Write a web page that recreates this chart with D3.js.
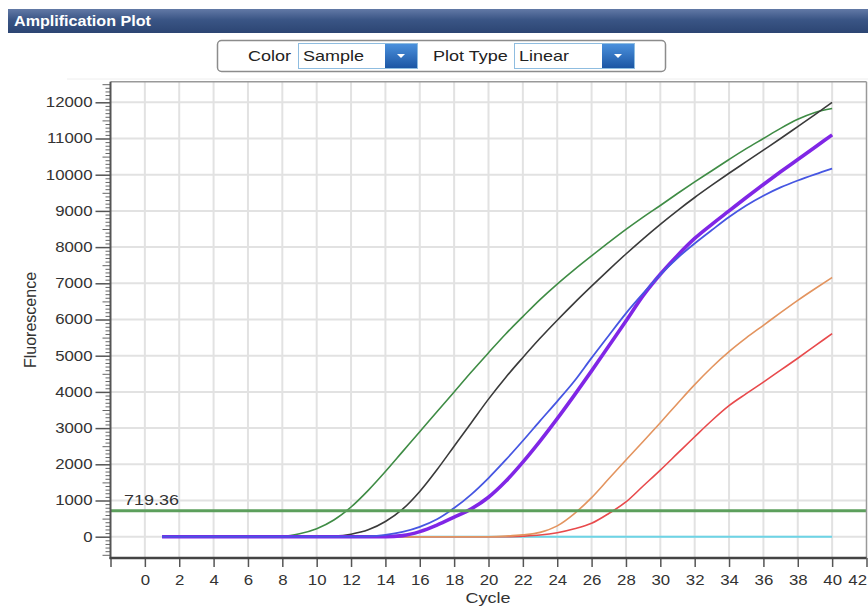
<!DOCTYPE html>
<html>
<head>
<meta charset="utf-8">
<script src="https://cdn.jsdelivr.net/npm/d3@7"></script>
<style>
  body { margin: 0; background: #fff; }
  text { font-family: "Liberation Sans", Arial, sans-serif; }
</style>
</head>
<body>
<svg id="chart" width="868" height="606"></svg>
<script>
// cycle numbers and fluorescence per well
var cycles = [1,2,3,4,5,6,7,8,9,10,11,12,13,14,15,16,17,18,19,20,
              21,22,23,24,25,26,27,28,29,30,31,32,33,34,35,36,37,38,39,40];
var greenVals = [0,0,0,0,0,0,0,10,80,220,460,820,1280,1800,2350,2900,3450,4000,4550,5080,
                 5600,6080,6550,6980,7380,7760,8130,8490,8830,9150,9480,9800,10110,10420,10720,11000,11280,11530,11720,11830];
var blackVals = [0,0,0,0,0,0,0,0,0,0,15,70,190,420,760,1250,1850,2500,3150,3800,
                 4400,4950,5480,5980,6460,6920,7370,7810,8230,8630,9010,9370,9710,10040,10360,10680,11000,11330,11660,12000];
var blueVals = [0,0,0,0,0,0,0,0,0,0,0,0,10,50,130,270,480,790,1170,1620,
                2120,2650,3200,3740,4300,4940,5560,6170,6720,7240,7700,8100,8470,8830,9150,9420,9650,9840,10010,10170];
var purpleVals = [0,0,0,0,0,0,0,0,0,0,0,0,0,0,30,140,320,540,770,1090,
                  1530,2060,2640,3260,3910,4580,5270,5960,6660,7250,7770,8240,8630,9000,9370,9730,10080,10420,10760,11100];
var orangeVals = [0,0,0,0,0,0,0,0,0,0,0,0,0,0,0,0,0,0,0,0,
                  15,50,120,300,640,1080,1600,2120,2630,3150,3680,4200,4680,5110,5490,5840,6190,6530,6850,7160];
var redVals = [0,0,0,0,0,0,0,0,0,0,0,0,0,0,0,0,0,0,0,0,
               0,15,45,110,220,370,640,960,1400,1840,2300,2760,3210,3620,3950,4270,4600,4930,5270,5610];
var cyanVals = [0,0,0,0,0,0,0,0,0,0,0,0,0,0,0,0,0,0,0,0,
                0,0,0,0,0,0,0,0,0,0,0,0,0,0,0,0,0,0,0,0];
var threshold = 719.36;

var xTicks = [-2,0,2,4,6,8,10,12,14,16,18,20,22,24,26,28,30,32,34,36,38,40,42];
var yTicks = [0,1000,2000,3000,4000,5000,6000,7000,8000,9000,10000,11000,12000];

var series = [
    {name: 'cyan', vals: cyanVals, color: '#6dd4e6', w: 2},
    {name: 'red', vals: redVals, color: '#e84a4c', w: 1.6},
    {name: 'orange', vals: orangeVals, color: '#e3945f', w: 1.6},
    {name: 'green', vals: greenVals, color: '#3f8c45', w: 1.6},
    {name: 'black', vals: blackVals, color: '#3a3a3a', w: 1.6},
    {name: 'purple', vals: purpleVals, color: '#8026e6', w: 3.6},
    {name: 'blue', vals: blueVals, color: '#4656e2', w: 1.8}
];

var svg = d3.select('#chart');
var pLeft = 110.5, pRight = 866.5, pTop = 81.7, pBottom = 558;

// stretch text a bit wider, the screenshot is wider than tall
function stretch(sel, k) {
    sel.each(function() {
        let w = this.getComputedTextLength();
        d3.select(this).attr('textLength', w * k).attr('lengthAdjust', 'spacingAndGlyphs');
    });
}

var defs = svg.append('defs');
var hg = defs.append('linearGradient').attr('id', 'hdr').attr('x1', 0).attr('y1', 0).attr('x2', 0).attr('y2', 1);
hg.append('stop').attr('offset', '0%').attr('stop-color', '#6279a6');
hg.append('stop').attr('offset', '45%').attr('stop-color', '#3a5585');
hg.append('stop').attr('offset', '100%').attr('stop-color', '#2c4573');
var bg = defs.append('linearGradient').attr('id', 'btn').attr('x1', 0).attr('y1', 0).attr('x2', 0).attr('y2', 1);
bg.append('stop').attr('offset', '0%').attr('stop-color', '#4a90dc');
bg.append('stop').attr('offset', '100%').attr('stop-color', '#1c56a4');

// header bar
svg.append('rect').attr('x', 8).attr('y', 9).attr('width', 860).attr('height', 24).attr('fill', 'url(#hdr)');
svg.append('text').attr('x', 14).attr('y', 26).attr('fill', '#fff')
    .attr('font-size', 14).attr('font-weight', 'bold').text('Amplification Plot')
    .call(stretch, 1.15);

// controls
svg.append('rect').attr('x', 217.5).attr('y', 40.5).attr('width', 448).attr('height', 31).attr('rx', 4)
    .attr('fill', '#fff').attr('stroke', '#8c8c8c').attr('stroke-width', 1.5);
function dropdown(lbl, lx, bx, bw, val) {
    svg.append('text').attr('x', lx).attr('y', 61).attr('font-size', 15).attr('fill', '#222').text(lbl).call(stretch, 1.2);
    svg.append('rect').attr('x', bx + 0.5).attr('y', 43.5).attr('width', bw).attr('height', 25)
        .attr('fill', '#fff').attr('stroke', '#8fbde0');
    svg.append('text').attr('x', bx + 5).attr('y', 61).attr('font-size', 15).attr('fill', '#222').text(val).call(stretch, 1.2);
    svg.append('rect').attr('x', bx + bw - 32).attr('y', 44).attr('width', 32).attr('height', 24).attr('fill', 'url(#btn)');
    let cx = bx + bw - 16;
    svg.append('path').attr('d', 'M' + (cx - 4) + ',54 L' + (cx + 4) + ',54 L' + cx + ',58 Z').attr('fill', '#fff');
}
dropdown('Color', 248, 298, 119, 'Sample');
dropdown('Plot Type', 433, 514, 120, 'Linear');

svg.append('line').attr('x1', 67).attr('x2', 868).attr('y1', 79).attr('y2', 79).attr('stroke', '#eee');

var x = d3.scaleLinear().domain([-2, 42]).range([pLeft, pRight]);
var y = d3.scaleLinear().domain([0, 12000]).range([536.7, 102.3]);

// grid
var grid = svg.append('g');
grid.selectAll('line.v').data(xTicks.filter(d => d >= 0 && d <= 40)).enter().append('line')
    .attr('class', 'v')
    .attr('x1', d => x(d)).attr('x2', d => x(d)).attr('y1', pTop).attr('y2', pBottom)
    .attr('stroke', '#e2e2e2').attr('stroke-width', 2);
grid.selectAll('line.h').data(yTicks).enter().append('line')
    .attr('class', 'h')
    .attr('x1', pLeft).attr('x2', pRight).attr('y1', d => y(d)).attr('y2', d => y(d))
    .attr('stroke', '#e2e2e2').attr('stroke-width', 2);

// curves
var line = d3.line()
    .x((d, i) => x(cycles[i]))
    .y(d => y(d))
    .curve(d3.curveMonotoneX);
svg.append('g').selectAll('path').data(series).enter().append('path')
    .attr('d', d => line(d.vals))
    .attr('fill', 'none')
    .attr('stroke', d => d.color)
    .attr('stroke-width', d => d.w)
    .attr('stroke-linejoin', 'round');

// threshold
svg.append('line').attr('x1', pLeft).attr('x2', pRight).attr('y1', y(threshold)).attr('y2', y(threshold))
    .attr('stroke', '#5c9f5c').attr('stroke-width', 3);
svg.append('text').attr('x', 124).attr('y', y(threshold) - 6).attr('font-size', 15).attr('fill', '#333')
    .text(threshold.toFixed(2)).call(stretch, 1.2);

// y axis: minor ticks, mid ticks, major ticks
var minor = [], mid = [];
for (let v = -500; v <= 12500; v += 100) {
    if (v % 1000 == 0) continue;
    if (v % 500 == 0) mid.push(v); else minor.push(v);
}
svg.append('g').attr('transform', 'translate(' + pLeft + ',0)')
    .call(d3.axisLeft(y).tickValues(minor).tickSize(5).tickFormat(''))
    .call(g => g.select('.domain').remove())
    .selectAll('line').attr('stroke', '#666');
svg.append('g').attr('transform', 'translate(' + pLeft + ',0)')
    .call(d3.axisLeft(y).tickValues(mid).tickSize(8).tickFormat(''))
    .call(g => g.select('.domain').remove())
    .selectAll('line').attr('stroke', '#666');
var yAx = svg.append('g').attr('transform', 'translate(' + pLeft + ',0)')
    .call(d3.axisLeft(y).tickValues(yTicks).tickSize(15).tickPadding(3).tickFormat(d3.format('d')));
yAx.select('.domain').remove();
yAx.selectAll('line').attr('stroke', '#555').attr('stroke-width', 1.5);
yAx.selectAll('text').attr('font-size', 14).attr('fill', '#333')
    .style('font-family', '"Liberation Sans", Arial, sans-serif').call(stretch, 1.2);

// x axis
var xAx = svg.append('g').attr('transform', 'translate(0,' + pBottom + ')')
    .call(d3.axisBottom(x).tickValues(xTicks).tickSize(9).tickPadding(8).tickFormat(d => d < 0 ? '' : d));
xAx.select('.domain').remove();
xAx.selectAll('line').attr('stroke', '#555').attr('stroke-width', 1.5);
xAx.selectAll('text').attr('font-size', 14).attr('fill', '#333')
    .style('font-family', '"Liberation Sans", Arial, sans-serif');
xAx.selectAll('.tick').filter(d => d == 42).select('text').attr('text-anchor', 'end').attr('x', 0);
xAx.selectAll('text').call(stretch, 1.2);

// frame
svg.append('line').attr('x1', pLeft).attr('x2', pRight).attr('y1', pTop).attr('y2', pTop).attr('stroke', '#999').attr('stroke-width', 1.5);
svg.append('line').attr('x1', pRight).attr('x2', pRight).attr('y1', pTop).attr('y2', pBottom).attr('stroke', '#999').attr('stroke-width', 1.5);
svg.append('line').attr('x1', pLeft).attr('x2', pLeft).attr('y1', pTop).attr('y2', pBottom + 1).attr('stroke', '#555').attr('stroke-width', 2);
svg.append('line').attr('x1', pLeft - 1).attr('x2', pRight).attr('y1', pBottom).attr('y2', pBottom).attr('stroke', '#444').attr('stroke-width', 2.5);

// axis titles
svg.append('text').attr('x', 488).attr('y', 603).attr('text-anchor', 'middle').attr('font-size', 15).attr('fill', '#333')
    .text('Cycle').call(stretch, 1.2);
svg.append('text').attr('transform', 'translate(36,320) rotate(-90)').attr('text-anchor', 'middle')
    .attr('font-size', 16).attr('fill', '#333').text('Fluorescence');
</script>
</body>
</html>
